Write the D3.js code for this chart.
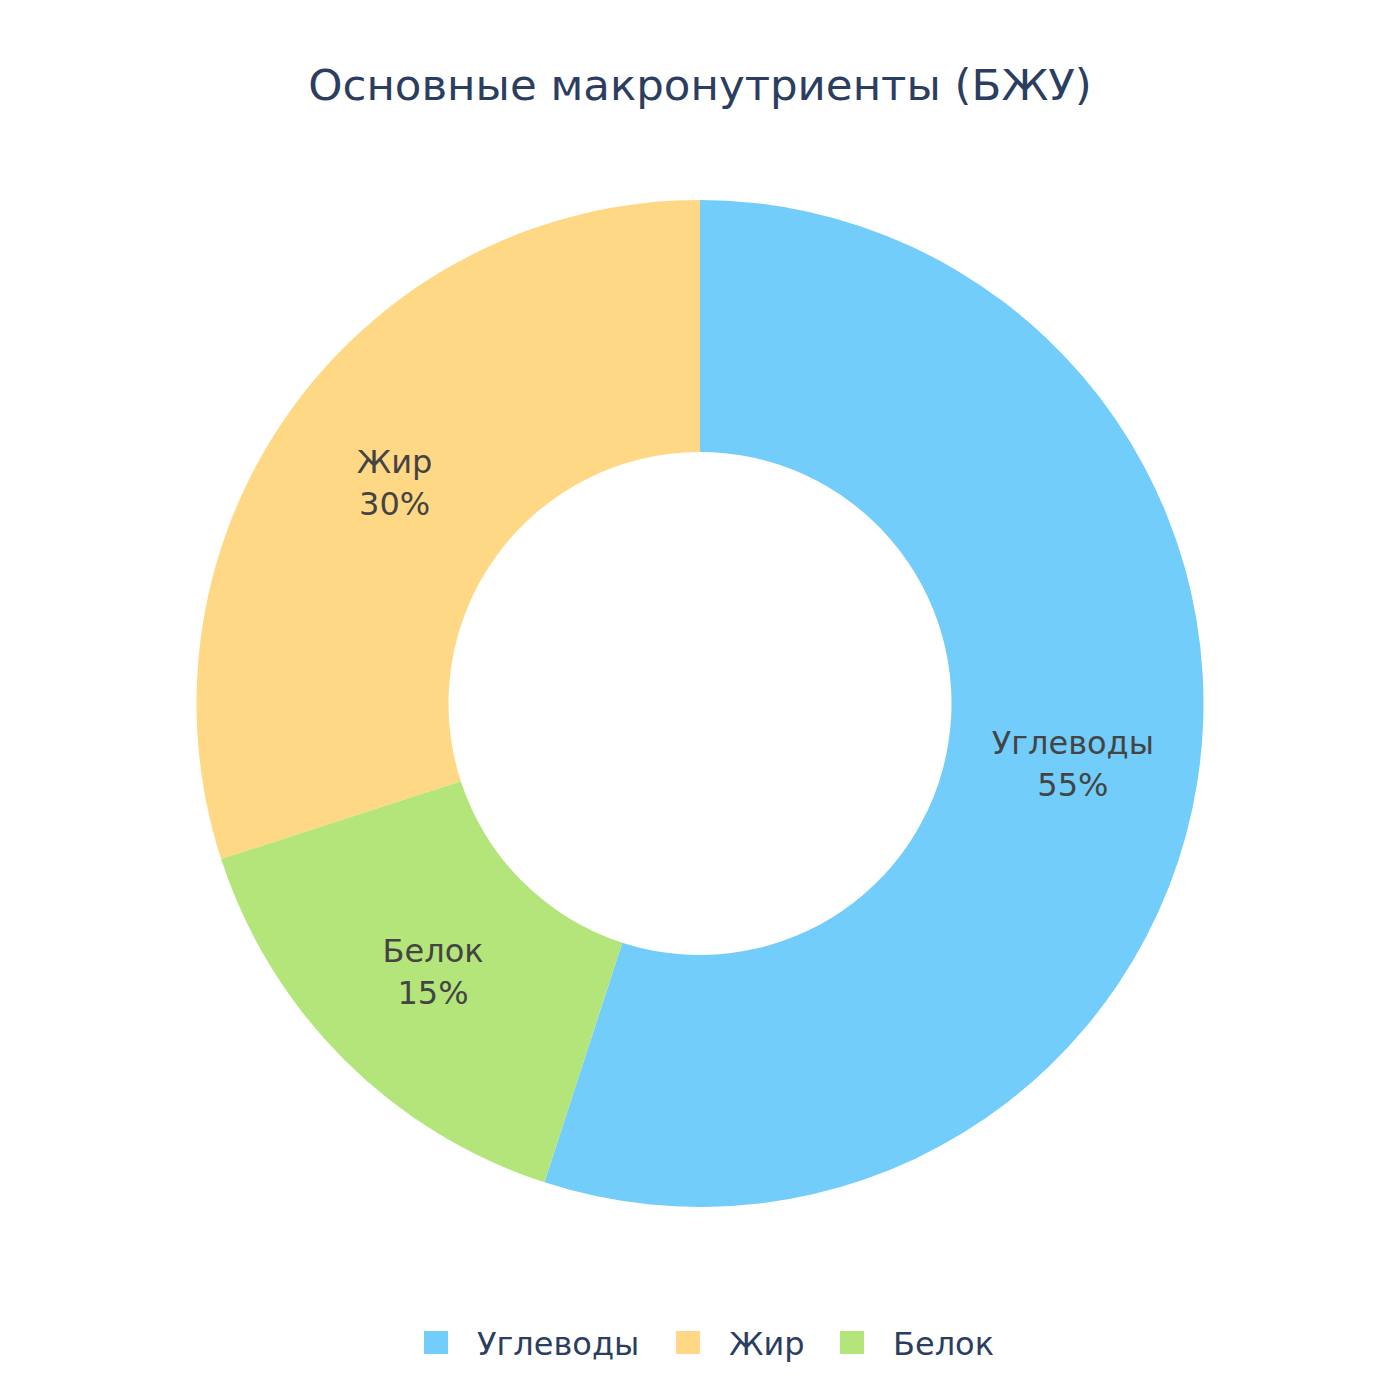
<!DOCTYPE html>
<html><head><meta charset="utf-8">
<script src="https://cdn.jsdelivr.net/npm/d3@7"></script>
<style>body{margin:0;background:#fff}svg text{font-family:"DejaVu Sans",sans-serif}</style>
</head><body>
<svg id="c" width="1400" height="1400"></svg>
<script>
const categories = ["Углеводы", "Жир", "Белок"];
const values = [55, 30, 15];
const colors = ["#72CDFA", "#FFD885", "#B3E57B"];
const sliceOrder = ["Углеводы", "Белок", "Жир"];
const title = "Основные макронутриенты (БЖУ)";

const svg = d3.select("#c");
const cx = 700, cy = 703.5, R = 503.5, r = 251.5;
svg.append("text").attr("x", 700).attr("y", 100).attr("text-anchor", "middle")
  .attr("font-size", 43.5).attr("fill", "#2C3E5F").text(title);

const data = categories.map((c, i) => ({name: c, value: values[i], color: colors[i]}));
const pie = d3.pie().value(d => d.value)
  .sort((a, b) => sliceOrder.indexOf(a.name) - sliceOrder.indexOf(b.name));
const arc = d3.arc().innerRadius(r).outerRadius(R);
const g = svg.append("g").attr("transform", `translate(${cx},${cy})`);
const arcs = pie(data);
g.selectAll("path").data(arcs).join("path").attr("d", arc).attr("fill", d => d.data.color);
const total = d3.sum(values);
const lbl = g.selectAll("text.l").data(arcs).join("text").attr("class", "l")
  .attr("text-anchor", "middle").attr("font-size", 32).attr("fill", "#444444")
  .attr("transform", d => `translate(${arc.centroid(d)})`);
lbl.append("tspan").attr("x", 0).attr("dy", "-0.27em").text(d => d.data.name);
lbl.append("tspan").attr("x", 0).attr("dy", "1.31em").text(d => Math.round(d.data.value / total * 100) + "%");

const legX = [424, 676, 840];
const lg = svg.append("g");
data.forEach((d, i) => {
  lg.append("rect").attr("x", legX[i]).attr("y", 1331).attr("width", 24).attr("height", 23).attr("fill", d.color);
  lg.append("text").attr("x", legX[i] + 53).attr("y", 1355).attr("font-size", 32).attr("fill", "#2C3E5F").text(d.name);
});
</script>
</body></html>
